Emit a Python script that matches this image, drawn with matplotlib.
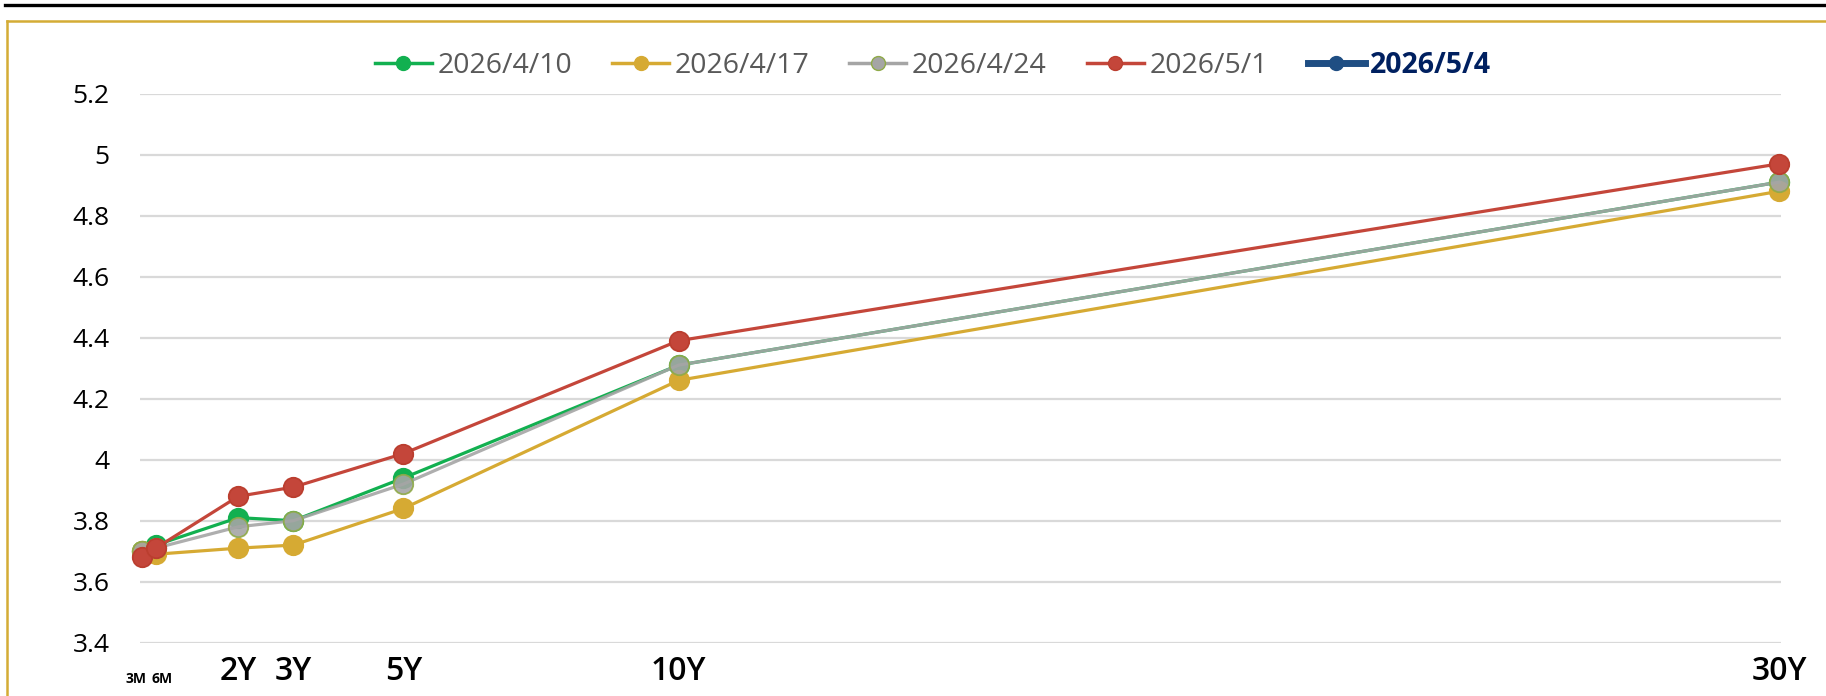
import matplotlib
matplotlib.use("Agg")
import matplotlib.pyplot as plt
from matplotlib.lines import Line2D

# curve data (yield %, by tenor)
tenors = [0.25, 0.5, 2, 3, 5, 10, 30]
tenor_labels = ["3M", "6M", "2Y", "3Y", "5Y", "10Y", "30Y"]
y_ticks = [3.4, 3.6, 3.8, 4.0, 4.2, 4.4, 4.6, 4.8, 5.0, 5.2]
y_tick_labels = ["3.4", "3.6", "3.8", "4", "4.2", "4.4", "4.6", "4.8", "5", "5.2"]

dates = ["2026/4/10", "2026/4/17", "2026/4/24", "2026/5/1", "2026/5/4"]
y_0410 = [3.70, 3.72, 3.81, 3.80, 3.94, 4.31, 4.91]
y_0417 = [3.70, 3.69, 3.71, 3.72, 3.84, 4.26, 4.88]
y_0424 = [3.70, 3.71, 3.78, 3.80, 3.92, 4.31, 4.91]
y_0501 = [3.68, 3.71, 3.88, 3.91, 4.02, 4.39, 4.97]
y_0504 = []  # no points drawn for this date, legend only

plt.rcParams['font.family'] = ['Open Sans', 'DejaVu Sans']

fig = plt.figure(figsize=(18.26, 6.96), dpi=100)
ax = fig.add_axes([0.0767, 0.0766, 0.8987, 0.7888])

series = [
    (y_0410, "#12B050", "#12B050", 1.0),
    (y_0417, "#D6AA33", "#D6AA33", 1.0),
    (y_0424, "#A5A5A5", "#8FAA48", 0.9),
    (y_0501, "#C4463A", "#BB3E2F", 1.0),
]
for i, (vals, col, edge, a) in enumerate(series):
    ax.plot(tenors, vals, color=col, lw=2.3, alpha=a, marker="o", ms=14,
            mfc=col, mec=edge, mew=1.3, clip_on=False, zorder=3 + i)
ax.plot(tenors[:len(y_0504)], y_0504, color="#1F4E83", lw=4, marker="o",
        ms=14, zorder=8)

ax.set_xlim(0.2137, 30.036)
ax.set_ylim(3.4, 5.2)
ax.set_yticks(y_ticks)
ax.set_yticklabels(y_tick_labels, fontsize=19)

# the long tenors go on the tick labels, 3M / 6M are small text side by side
ax.set_xticks(tenors[2:])
ax.set_xticklabels(tenor_labels[2:], fontsize=23, fontweight="semibold")
ax.annotate(tenor_labels[0], (tenors[0], 3.4), xytext=(3, -26),
            textcoords="offset points", ha="right", va="center",
            fontsize=10, fontweight="bold", annotation_clip=False)
ax.annotate(tenor_labels[1], (tenors[1], 3.4), xytext=(-3, -26),
            textcoords="offset points", ha="left", va="center",
            fontsize=10, fontweight="bold", annotation_clip=False)

ax.tick_params(axis="both", length=0)
ax.tick_params(axis="y", pad=22)
ax.tick_params(axis="x", pad=9)
ax.grid(axis="y", color="#D9D9D9", lw=1.6)
ax.set_axisbelow(True)
for s in ax.spines.values():
    s.set_visible(False)

# legend
handles = []
for (vals, col, edge, a) in series:
    handles.append(Line2D([], [], color=col, lw=2.5, marker="o", ms=10,
                          mfc=col, mec=edge))
handles.append(Line2D([], [], color="#1F4E83", lw=5, marker="o", ms=10,
                      mfc="#1F4E83", mec="#1F4E83"))
leg = fig.legend(handles, dates, loc="center", bbox_to_anchor=(0.511, 0.906),
                 ncol=5, frameon=False, fontsize=20.5, handlelength=2.0,
                 handletextpad=0.2, columnspacing=1.4)
for i, t in enumerate(leg.get_texts()):
    if i == 4:
        t.set_color("#002060")
        t.set_fontweight("bold")
    else:
        t.set_color("#595959")

# frame lines
fig.add_artist(Line2D([0.003, 1.0], [0.9924, 0.9924], color="black", lw=2.4,
                      transform=fig.transFigure))
fig.add_artist(Line2D([0.0036, 1.0], [0.9703, 0.9703], color="#D4AC35", lw=1.8,
                      transform=fig.transFigure))
fig.add_artist(Line2D([0.0036, 0.0036], [0.9703, 0.0], color="#D4AC35", lw=1.8,
                      transform=fig.transFigure))

fig.savefig("out.png", dpi=100)
